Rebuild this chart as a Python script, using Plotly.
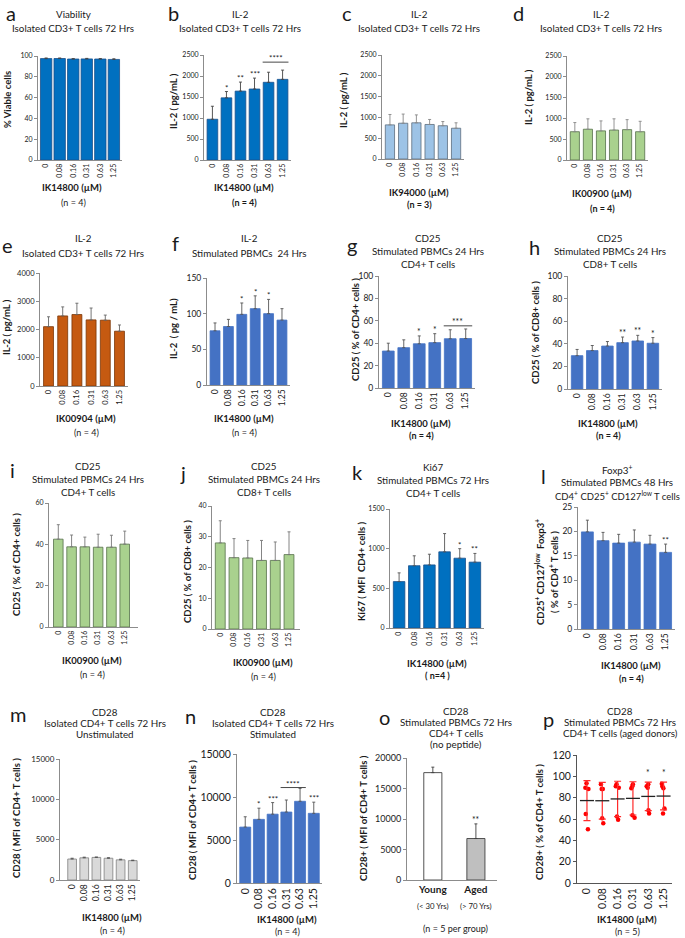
import plotly.graph_objects as go
import numpy as np

W, H = 685, 938
FONT = "Lato"
TXT = "#1a1a1a"

# ---------------- data ----------------
doses = ["0", "0.08", "0.16", "0.31", "0.63", "1.25"]

a_vals = [97.5, 97.6, 97.1, 97.2, 97.1, 96.7]
a_err = [0.6, 0.5, 0.4, 0.5, 0.4, 0.6]

b_vals = [970, 1480, 1640, 1690, 1850, 1920]
b_err = [310, 150, 215, 260, 240, 220]
b_stars = ["", "*", "**", "***", "", ""]
b_bracket = [4, 5, 2330, "****"]

c_vals = [820, 860, 870, 830, 800, 740]
c_err = [250, 220, 190, 120, 100, 130]

d_vals = [680, 740, 700, 720, 730, 680]
d_err = [220, 250, 240, 270, 240, 250]

e_vals = [2100, 2480, 2530, 2340, 2330, 1940]
e_err = [350, 320, 400, 420, 180, 220]

f_vals = [76, 82, 99, 107, 100, 91]
f_err = [11, 10, 16, 18, 20, 16]
f_stars = ["", "", "*", "*", "*", ""]

g_vals = [33, 36, 39.5, 40.5, 44, 44.2]
g_err = [7, 7, 7, 8, 8, 8.5]
g_stars = ["", "", "*", "*", "", ""]
g_bracket = [4, 5, 55.5, "***"]

h_vals = [29.5, 34, 38, 41, 42.5, 40.5]
h_err = [5.5, 4.5, 4, 5, 5, 5]
h_stars = ["", "", "", "**", "**", "*"]

i_vals = [42.5, 38.8, 38.8, 38.6, 38.6, 40.1]
i_err = [7, 5.7, 4.7, 6.3, 5.8, 6.3]

j_vals = [28, 23.2, 23.1, 22.3, 22.3, 24.2]
j_err = [7.2, 6.2, 5.7, 6.5, 6, 7.4]

k_vals = [585, 785, 795, 960, 880, 830]
k_err = [110, 125, 135, 230, 120, 110]
k_stars = ["", "", "", "", "*", "**"]

l_vals = [19.9, 18.1, 17.6, 17.8, 17.4, 15.7]
l_err = [2.4, 1.7, 1.8, 2.5, 1.8, 1.7]
l_stars = ["", "", "", "", "", "**"]

m_vals = [2600, 2750, 2800, 2700, 2500, 2400]
m_err = [100, 80, 50, 60, 80, 60]

n_vals = [6500, 7400, 8000, 8250, 9500, 8100]
n_err = [1200, 1300, 1350, 1400, 1500, 1300]
n_stars = ["", "*", "***", "", "", "***"]
n_bracket = [3, 4, 11100, "****"]

o_groups = ["Young", "Aged"]
o_ages = ["(&lt; 30 Yrs)", "(&gt; 70 Yrs)"]
o_vals = [17600, 6800]
o_err = [900, 2400]
o_stars = ["", "**"]

p_points = [
    [88.2, 93.5, 89.4, 64.8, 50.5],
    [88.2, 92.5, 88.2, 60.7, 56.0],
    [92.5, 89.4, 90.7, 62.3, 59.2],
    [92.5, 88.8, 90.7, 63.6, 61.1],
    [92.5, 89.4, 90.7, 68.2, 65.1],
    [93.1, 88.8, 90.7, 69.8, 65.1],
]
p_stars = ["", "", "", "", "*", "*"]

# ---------------- helpers ----------------
fig = go.Figure()
layout = {}
annotations = []
shapes = []


def px(x):
    return x / W


def py(y):
    return 1 - y / H


def note(x, y, text, size, bold=False, angle=0, xanchor="center", color=TXT):
    if bold:
        text = f"<b>{text}</b>"
    annotations.append(dict(x=px(x), y=py(y), xref="paper", yref="paper", text=text,
                            showarrow=False, font=dict(family=FONT, size=size, color=color),
                            textangle=angle, xanchor=xanchor, yanchor="middle"))


def axes(k, box, ymax, dtick, yfs, xfs, xr, cats=None, xvals=None, lc="#8c8c8c"):
    x0, x1, yt, yb = box
    n = len(cats) if cats else 6
    layout[f"xaxis{k}"] = dict(domain=[px(x0), px(x1)], anchor=f"y{k}", range=list(xr),
                               tickmode="array", tickvals=xvals if xvals is not None else list(range(n)),
                               ticktext=cats if cats else doses,
                               tickangle=0 if cats else -90,
                               tickfont=dict(family=FONT, size=xfs, color=TXT),
                               showline=True, linecolor=lc, linewidth=1, ticks="",
                               showgrid=False, zeroline=False, automargin=False, fixedrange=True)
    layout[f"yaxis{k}"] = dict(domain=[py(yb), py(yt)], anchor=f"x{k}", range=[0, ymax],
                               dtick=dtick, tick0=0, exponentformat="none", separatethousands=False,
                               tickformat="d",
                               tickfont=dict(family=FONT, size=yfs, color=TXT),
                               showline=True, linecolor=lc, linewidth=1,
                               ticks="outside", ticklen=3, tickcolor=lc,
                               showgrid=False, zeroline=False, automargin=False, fixedrange=True)


def bar_panel(k, box, vals, err, ymax, dtick, fill, edge, errc, yfs, xfs,
              xr=(-0.6, 5.6), width=0.74, cats=None):
    xs = list(range(len(vals)))
    fig.add_trace(go.Bar(x=xs, y=vals, width=width,
                         marker=dict(color=fill, line=dict(color=edge, width=0.8)),
                         error_y=dict(type="data", array=err, arrayminus=[0] * len(err),
                                      symmetric=False, color=errc, thickness=0.9, width=1.5),
                         xaxis=f"x{k}", yaxis=f"y{k}", showlegend=False))
    axes(k, box, ymax, dtick, yfs, xfs, xr, cats=cats)


def stars(k, vals, err, marks, size=8):
    for i, s in enumerate(marks):
        if s:
            annotations.append(dict(x=i, y=vals[i] + err[i], xref=f"x{k}", yref=f"y{k}",
                                    text=s, showarrow=False, yanchor="bottom", yshift=-3,
                                    font=dict(family=FONT, size=size, color=TXT)))


def bracket(k, spec, size=8):
    i0, i1, yv, s = spec
    shapes.append(dict(type="line", xref=f"x{k}", yref=f"y{k}", x0=i0 - 0.42, x1=i1 + 0.42,
                       y0=yv, y1=yv, line=dict(color="#333333", width=0.9)))
    annotations.append(dict(x=(i0 + i1) / 2, y=yv, xref=f"x{k}", yref=f"y{k}", text=s,
                            showarrow=False, yanchor="bottom", yshift=-3,
                            font=dict(family=FONT, size=size, color=TXT)))


LET = 20
TT = 9.8
YT = 9.5
XT = 9.5
NT = 9

BLUE = "#0070C0"
BLUE_E = "#1b4f8a"
MBLUE = "#4472C4"
LBLUE = "#9DC3E6"
GREEN = "#A9D18E"
GREEN_E = "#55704a"
ORANGE = "#C55A11"

# ---------- a ----------
bar_panel(1, (38, 122, 56, 160), a_vals, a_err, 100, 20, BLUE, BLUE_E, "#444", 7, 7, width=0.84)
note(11, 13, "a", LET)
note(73, 14, "Viability", TT)
note(73, 28, "Isolated CD3+ T cells 72 Hrs", TT)
note(7, 100, "% Viable cells", YT, bold=True, angle=-90)
note(72, 188, "IK14800 (µM)", XT, bold=True)
note(73, 203, "(n = 4)", NT)

# ---------- b ----------
bar_panel(2, (204, 291, 55, 160), b_vals, b_err, 2500, 500, BLUE, BLUE_E, "#444", 7, 7, width=0.76)
stars(2, b_vals, b_err, b_stars, 8)
bracket(2, b_bracket, 8)
note(173, 13, "b", LET)
note(240, 14, "IL-2", TT)
note(240, 28, "Isolated CD3+ T cells 72 Hrs", TT)
note(173, 101, "IL-2 ( pg/mL )", YT, bold=True, angle=-90)
note(244, 188, "IK14800 (µM)", XT, bold=True)
note(244, 203, "(n = 4)", NT, bold=True)

# ---------- c ----------
bar_panel(3, (382, 464, 55, 159), c_vals, c_err, 2500, 500, LBLUE, "#5d6d7e", "#888", 7, 7, width=0.7)
note(347, 13, "c", LET)
note(419, 14, "IL-2", TT)
note(419, 28, "Isolated CD3+ T cells 72 Hrs", TT)
note(343, 100, "IL-2 ( pg/mL )", YT, bold=True, angle=-90)
note(419, 192, "IK94000 (µM)", XT, bold=True)
note(419, 204, "(n = 3)", NT, bold=True)

# ---------- d ----------
bar_panel(4, (567, 648, 56, 160), d_vals, d_err, 2500, 500, GREEN, GREEN_E, "#888", 7, 7, width=0.7)
note(518, 13, "d", LET)
note(601, 14, "IL-2", TT)
note(601, 28, "Isolated CD3+ T cells 72 Hrs", TT)
note(528, 97, "IL-2 ( pg/mL )", YT, bold=True, angle=-90)
note(602, 193, "IK00900 (µM)", XT, bold=True)
note(602, 208, "(n = 4)", NT, bold=True)

# ---------- e ----------
bar_panel(5, (40, 128, 273, 386), e_vals, e_err, 4000, 1000, ORANGE, "#7a3608", "#666", 7.5, 7.5, width=0.7)
note(8, 245, "e", LET)
note(83, 238, "IL-2", TT)
note(83, 253, "Isolated CD3+ T cells 72 Hrs", TT)
note(6, 327, "IL-2 ( pg/mL )", YT, bold=True, angle=-90)
note(86, 418, "IK00904 (µM)", XT, bold=True)
note(86, 432, "(n = 4)", NT)

# ---------- f ----------
bar_panel(6, (207, 290, 278, 385), f_vals, f_err, 150, 50, MBLUE, MBLUE, "#555", 8.5, 8.5, width=0.74)
stars(6, f_vals, f_err, f_stars, 8)
note(175, 243, "f", LET)
note(249, 238, "IL-2", TT)
note(249, 253, "Stimulated PBMCs  24 Hrs", TT)
note(174, 328, "IL-2  ( pg / mL)", YT, bold=True, angle=-90)
note(244, 418, "IK14800 (µM)", XT, bold=True)
note(244, 432, "(n = 4)", NT)

# ---------- g ----------
bar_panel(7, (379, 475, 276, 388), g_vals, g_err, 100, 20, MBLUE, MBLUE, "#555", 8.5, 8.5, width=0.76)
stars(7, g_vals, g_err, g_stars, 8.5)
bracket(7, g_bracket, 8.5)
note(352, 245, "g", LET)
note(428, 238, "CD25", TT)
note(428, 251, "Stimulated PBMCs 24 Hrs", TT)
note(428, 264, "CD4+ T cells", TT)
note(355, 330, "CD25 ( % of CD4+ cells )", YT, bold=True, angle=-90)
note(421, 423, "IK14800 (µM)", XT, bold=True)
note(421, 436, "(n = 4)", NT, bold=True)

# ---------- h ----------
bar_panel(8, (568, 662, 276, 389), h_vals, h_err, 100, 20, MBLUE, MBLUE, "#555", 8.5, 8.5, width=0.76)
stars(8, h_vals, h_err, h_stars, 8.5)
note(534, 247, "h", LET)
note(610, 238, "CD25", TT)
note(610, 251, "Stimulated PBMCs 24 Hrs", TT)
note(610, 264, "CD8+ T cells", TT)
note(535, 333, "CD25 ( % of CD8+ cells )", YT, bold=True, angle=-90)
note(608, 423, "IK14800 (µM)", XT, bold=True)
note(608, 436, "(n = 4)", NT, bold=True)

# ---------- i ----------
bar_panel(9, (49, 138, 503, 627), i_vals, i_err, 60, 20, GREEN, GREEN_E, "#777", 7, 7,
          xr=(-0.7, 6.0), width=0.72)
note(12, 470, "i", LET)
note(88, 466, "CD25", TT)
note(88, 479, "Stimulated PBMCs 24 Hrs", TT)
note(88, 492, "CD4+ T cells", TT)
note(16, 565, "CD25 ( % of CD4+ cells )", YT, bold=True, angle=-90)
note(92, 660, "IK00900 (µM)", XT, bold=True)
note(92, 674, "(n = 4)", NT)

# ---------- j ----------
bar_panel(10, (212, 300, 506, 629), j_vals, j_err, 40, 10, GREEN, GREEN_E, "#777", 7, 7,
          xr=(-0.6, 5.8), width=0.72)
note(183, 473, "j", LET)
note(264, 466, "CD25", TT)
note(264, 479, "Stimulated PBMCs 24 Hrs", TT)
note(264, 492, "CD8+ T cells", TT)
note(187, 571, "CD25 ( % of CD8+ cells )", YT, bold=True, angle=-90)
note(263, 662, "IK00900 (µM)", XT, bold=True)
note(263, 676, "(n = 4)", NT)

# ---------- k ----------
bar_panel(11, (390, 484, 509, 628), k_vals, k_err, 1500, 500, BLUE, BLUE_E, "#555", 7, 7, width=0.76)
stars(11, k_vals, k_err, k_stars, 8)
note(357, 472, "k", LET)
note(433, 467, "Ki67", TT)
note(433, 480, "Stimulated PBMCs 72 Hrs", TT)
note(433, 493, "CD4+ T cells", TT)
note(361, 571, "Ki67 ( MFI  CD4+ cells )", YT, bold=True, angle=-90)
note(437, 663, "IK14800 (µM)", XT, bold=True)
note(437, 675, "( n=4 )", NT, bold=True)

# ---------- l ----------
bar_panel(12, (578, 675, 507, 629), l_vals, l_err, 25, 5, MBLUE, MBLUE, "#555", 8.5, 8.5, width=0.76)
stars(12, l_vals, l_err, l_stars, 8)
note(543, 476, "l", LET)
note(617, 469, "Foxp3<sup>+</sup>", TT)
note(617, 482, "Stimulated PBMCs 48 Hrs", TT)
note(617, 495, "CD4<sup>+</sup> CD25<sup>+</sup> CD127<sup>low</sup> T cells", TT - 0.3)
note(539, 572, "CD25<sup>+</sup> CD127<sup>low</sup>  Foxp3<sup>+</sup>", YT, bold=True, angle=-90)
note(553, 572, "( % of CD4<sup>+</sup> T cells )", YT, bold=True, angle=-90)
note(631, 665, "IK14800 (µM)", XT, bold=True)
note(631, 678, "(n = 4)", NT, bold=True)

# ---------- m ----------
bar_panel(13, (60, 140, 759, 880), m_vals, m_err, 15000, 5000, "#D9D9D9", "#808080", "#555", 8, 8.5,
          xr=(-1.0, 5.6), width=0.72)
note(18, 714, "m", LET)
note(105, 712, "CD28", TT)
note(105, 723, "Isolated CD4+ T cells 72 Hrs", TT)
note(105, 734, "Unstimulated", TT)
note(16, 818, "CD28 ( MFI of CD4+ T cells )", YT, bold=True, angle=-90)
note(112, 917, "IK14800 (µM)", XT, bold=True)
note(112, 930, "(n = 4)", NT)

# ---------- n ----------
bar_panel(14, (237, 322, 754, 883), n_vals, n_err, 15000, 5000, MBLUE, MBLUE, "#555", 10.5, 10.5,
          width=0.8)
stars(14, n_vals, n_err, n_stars, 8)
bracket(14, n_bracket, 8)
note(190, 716, "n", LET)
note(273, 712, "CD28", TT)
note(273, 723, "Isolated CD4+ T cells 72 Hrs", TT)
note(273, 734, "Stimulated", TT)
note(192, 820, "CD28 ( MFI of CD4+ T cells )", YT, bold=True, angle=-90)
note(287, 919, "IK14800 (µM)", XT, bold=True)
note(287, 931, "(n = 4)", NT)

# ---------- o ----------
fig.add_trace(go.Bar(x=[0, 1], y=o_vals, width=0.42,
                     marker=dict(color=["#FFFFFF", "#BFBFBF"], line=dict(color="#404040", width=0.9)),
                     error_y=dict(type="data", array=o_err, arrayminus=[0, 0], symmetric=False,
                                  color="#404040", thickness=0.9, width=1.5),
                     xaxis="x15", yaxis="y15", showlegend=False))
axes(15, (407, 497, 758, 880), 20000, 5000, 9, 10,
     (-0.6, 1.49), cats=[f"<b>{g}</b>" for g in o_groups], xvals=[0, 1])
stars(15, o_vals, o_err, o_stars, 8.5)
for i, s in enumerate(o_ages):
    annotations.append(dict(x=i, y=py(906), xref="x15", yref="paper", text=s, showarrow=False,
                            font=dict(family=FONT, size=7.8, color=TXT), yanchor="middle"))
note(384, 717, "o", LET)
note(456, 711, "CD28", TT)
note(456, 722, "Stimulated PBMCs 72 Hrs", TT)
note(456, 733, "CD4+ T cells", TT)
note(456, 744, "(no peptide)", TT)
note(363, 818, "CD28+ ( MFI of CD4+ T cells )", YT, bold=True, angle=-90)
note(455, 928, "(n = 5 per group)", NT)

# ---------- p ----------
p_x = [doses[g] for g, pts in enumerate(p_points) for _ in pts]
p_y = [v for pts in p_points for v in pts]
p_mean = [float(np.mean(pts)) for pts in p_points]
p_sd = [float(np.std(pts, ddof=1)) for pts in p_points]
fig.add_trace(go.Scatter(x=doses, y=p_mean, mode="markers",
                         marker=dict(symbol="line-ew", size=10, color="#222",
                                     line=dict(color="#222", width=1.3)),
                         error_y=dict(type="data", array=p_sd, symmetric=True, color="#ff2a2a",
                                      thickness=1.2, width=3.5),
                         xaxis="x16", yaxis="y16", showlegend=False))
fig.add_trace(go.Box(x=p_x, y=p_y, boxpoints="all", jitter=0.5, pointpos=0,
                     fillcolor="rgba(0,0,0,0)", line=dict(width=0, color="rgba(0,0,0,0)"),
                     marker=dict(color="#ff0000", size=4.5), whiskerwidth=0,
                     xaxis="x16", yaxis="y16", showlegend=False))
for i, s in enumerate(p_stars):
    if s:
        annotations.append(dict(x=i, y=p_mean[i] + p_sd[i], xref="x16", yref="y16",
                                text=s, showarrow=False, yanchor="bottom", yshift=2,
                                font=dict(family=FONT, size=8.5, color=TXT)))
axes(16, (577, 672, 755, 883), 120, 20, 10.5, 10.5, (-0.65, 5.55), lc="#555")
layout["xaxis16"]["type"] = "category"
layout["xaxis16"]["tickvals"] = doses
layout["xaxis16"]["ticktext"] = doses
note(548, 719, "p", LET)
note(620, 711, "CD28", TT)
note(620, 722, "Stimulated PBMCs 72 Hrs", TT)
note(620, 733, "CD4+ T cells (aged donors)", TT)
note(539, 822, "CD28+ ( % of CD4+ T cells )", YT, bold=True, angle=-90)
note(627, 919, "IK14800 (µM)", XT, bold=True)
note(627, 931, "(n = 5)", NT)

fig.update_layout(width=W, height=H, margin=dict(l=0, r=0, t=0, b=0),
                  paper_bgcolor="white", plot_bgcolor="rgba(0,0,0,0)", template="none",
                  showlegend=False, font=dict(family=FONT, color=TXT),
                  annotations=annotations, shapes=shapes, boxmode="overlay")
fig.update_layout(**layout)
fig.write_html("out.html", config={"displayModeBar": False, "staticPlot": True},
               post_script="document.body.style.margin='0px';document.body.style.overflow='hidden';")
